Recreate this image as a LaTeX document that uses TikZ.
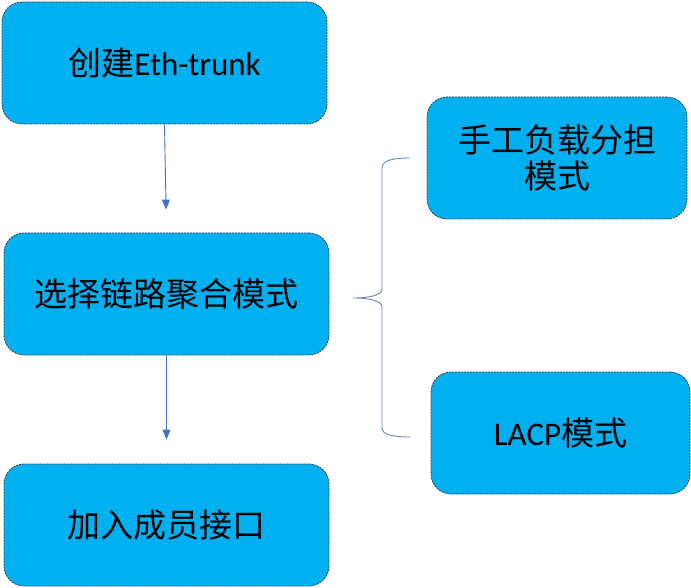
\documentclass[tikz,border=0pt]{standalone}
\usepackage{fontspec}
\setmainfont{Carlito}
\newfontfamily\cjk{Noto Sans CJK SC}
\usetikzlibrary{arrows.meta}
\definecolor{boxblue}{HTML}{00B0F0}
\definecolor{arrblue}{HTML}{4472C4}
\definecolor{braceblue}{HTML}{6C86B8}

\begin{document}
\begin{tikzpicture}[x=1pt, y=-1pt, font=\fontsize{33}{36}\selectfont]
		\tikzset{stage/.style={draw=black!75, fill=boxblue, line width=0.8pt, dash pattern=on 2pt off 1pt, rounded corners=20pt, minimum width=325pt, minimum height=122pt, align=center, inner sep=0pt}}
		\tikzset{arr/.style={draw=arrblue, line width=0.9pt, -{Triangle[width=8pt, length=10pt]}}}
		\useasboundingbox (0,0) rectangle (691,588);
		% left column
		\node[stage] (create) at (164.5,63) {{\cjk 创建}Eth-trunk};
		\node[stage] (choose) at (166.5,294) {\cjk 选择链路聚合模式};
		\node[stage] (join) at (166.5,525) {\cjk 加入成员接口};
		% right column
		\node[stage, minimum width=260pt] (manual) at (557,158) {\cjk 手工负载分担\\\cjk 模式};
		\node[stage, minimum width=259pt] (lacp) at (560.5,433) {LACP{\cjk 模式}};
		% arrows
		\draw[arr, shorten >=23pt] (create.south) -- (choose.north);
		\draw[arr, shorten >=24pt] (choose.south) -- (join.north);
		% brace
		\coordinate (btip) at (353,298);
		\coordinate (btop) at (410,158);
		\coordinate (bbot) at (410,437);
		\draw[braceblue, line width=0.9pt] (btop) .. controls (394,158) and (382,160) .. (382,168) -- (382,289)
			.. controls (382,295) and (370,298) .. (btip)
			.. controls (370,298) and (382,301) .. (382,307) -- (382,428)
			.. controls (382,435) and (394,437) .. (bbot);
	\end{tikzpicture}
\end{document}
